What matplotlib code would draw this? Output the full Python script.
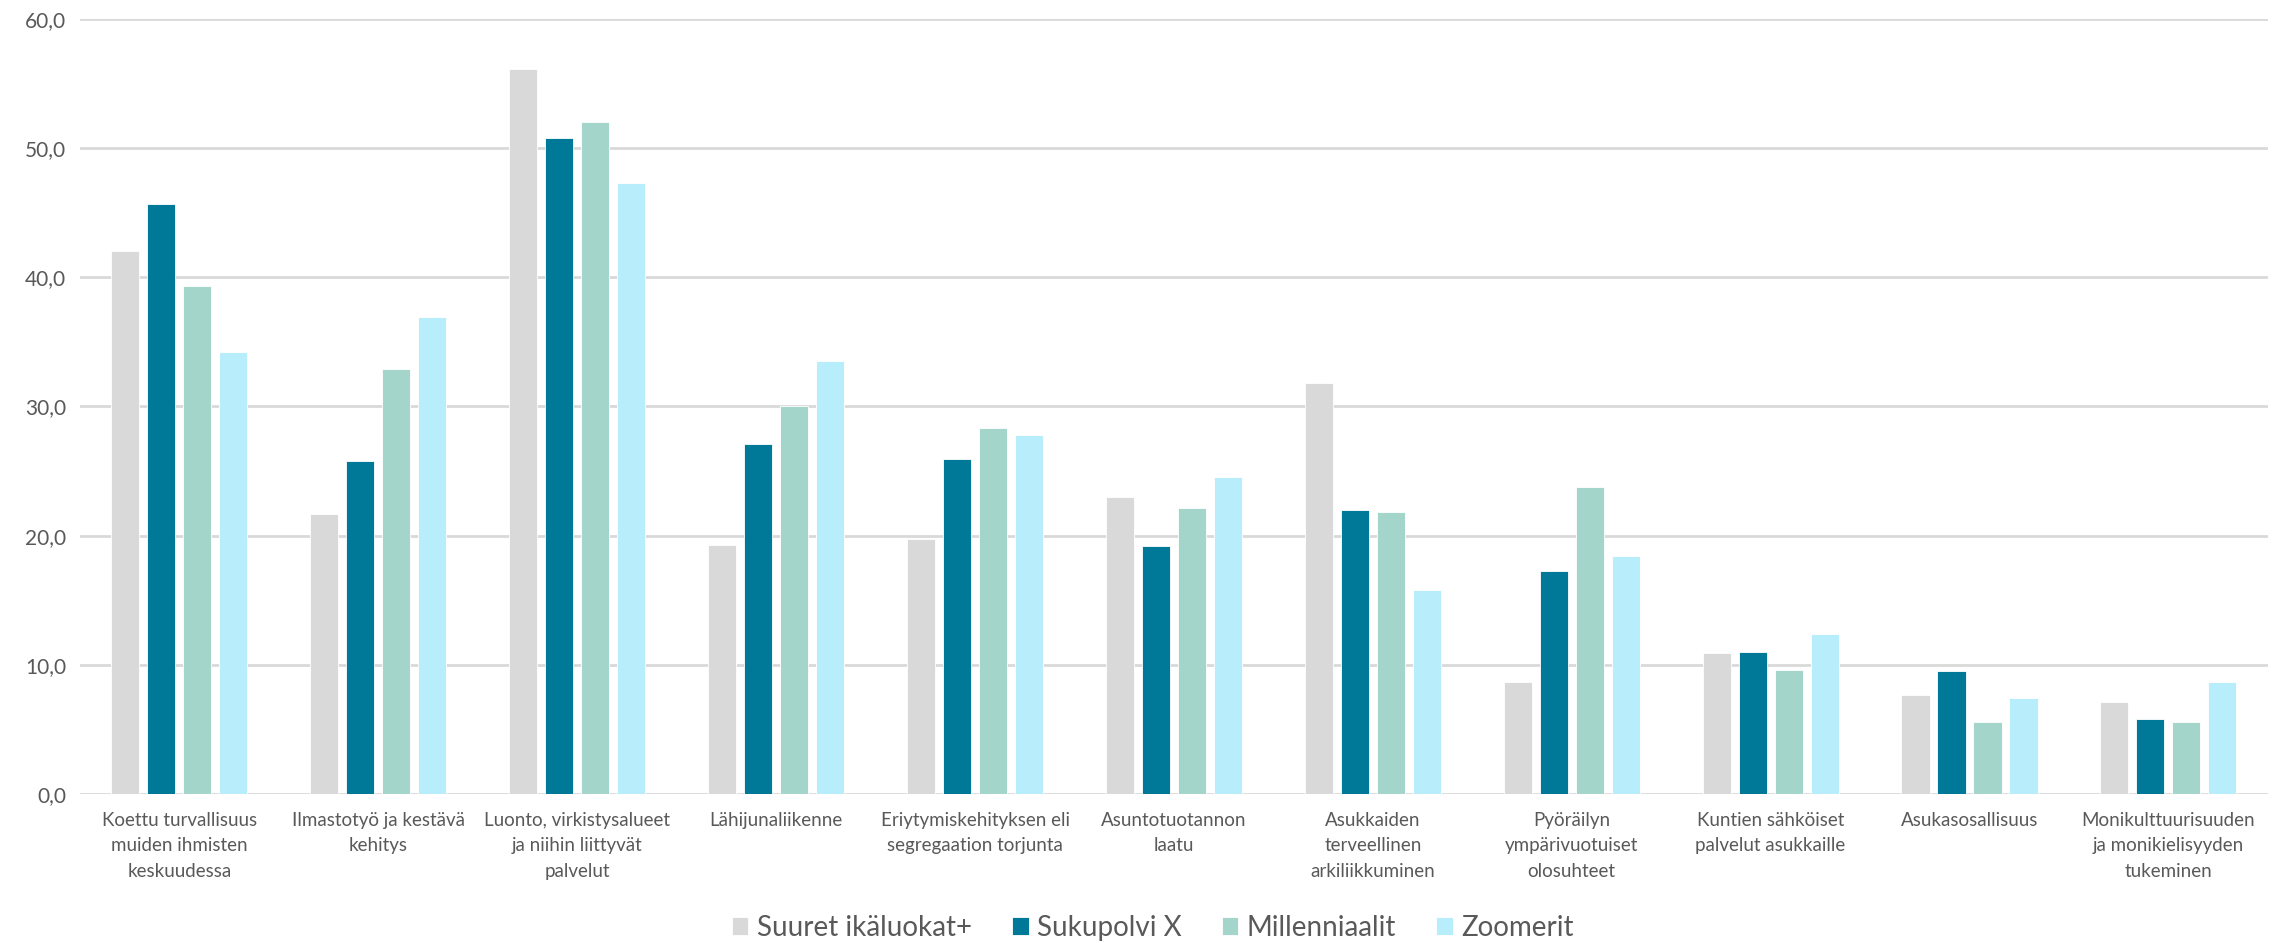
import matplotlib
matplotlib.use("Agg")
import matplotlib.pyplot as plt
from matplotlib.ticker import FuncFormatter
import numpy as np

categories = [
    "Koettu turvallisuus\nmuiden ihmisten\nkeskuudessa",
    "Ilmastotyö ja kestävä\nkehitys",
    "Luonto, virkistysalueet\nja niihin liittyvät\npalvelut",
    "Lähijunaliikenne",
    "Eriytymiskehityksen eli\nsegregaation torjunta",
    "Asuntotuotannon\nlaatu",
    "Asukkaiden\nterveellinen\narkiliikkuminen",
    "Pyöräilyn\nympärivuotuiset\nolosuhteet",
    "Kuntien sähköiset\npalvelut asukkaille",
    "Asukasosallisuus",
    "Monikulttuurisuuden\nja monikielisyyden\ntukeminen",
]
series_names = ["Suuret ikäluokat+", "Sukupolvi X", "Millenniaalit", "Zoomerit"]
suuret = [42.0, 21.7, 56.1, 19.3, 19.7, 23.0, 31.8, 8.7, 10.9, 7.7, 7.1]
sukupolvi_x = [45.7, 25.8, 50.8, 27.1, 25.9, 19.2, 22.0, 17.3, 11.0, 9.5, 5.8]
millenniaalit = [39.3, 32.9, 52.0, 30.0, 28.3, 22.1, 21.8, 23.8, 9.6, 5.6, 5.6]
zoomerit = [34.2, 36.9, 47.3, 33.5, 27.8, 24.5, 15.8, 18.4, 12.4, 7.4, 8.7]
colors = ["#D9D9D9", "#007898", "#A3D5CB", "#B8EEFC"]

plt.rcParams['font.family'] = ['Lato', 'DejaVu Sans']
text_color = "#595959"

fig = plt.figure(figsize=(22.85, 9.43), dpi=100)
ax = fig.add_axes([0.035, 0.158, 0.9575, 0.822])

x = np.arange(len(categories))
width = 0.141
pitch = 0.181
all_series = [suuret, sukupolvi_x, millenniaalit, zoomerit]
for i, (vals, name, col) in enumerate(zip(all_series, series_names, colors)):
    ax.bar(x + (i - 1.5) * pitch, vals, width, color=col, label=name,
           edgecolor="white", linewidth=0.6, zorder=3)

ax.set_xlim(-0.5, len(categories) - 0.5)
ax.set_ylim(0, 60)
ax.set_yticks(np.arange(0, 61, 10))
ax.yaxis.set_major_formatter(FuncFormatter(lambda v, p: f"{v:.1f}".replace(".", ",")))
ax.grid(axis="y", color="#D9D9D9", linewidth=2, zorder=0)
for s in ax.spines.values():
    s.set_visible(False)
ax.tick_params(axis="y", length=0, labelsize=15, labelcolor=text_color, pad=10)
ax.tick_params(axis="x", length=0, labelsize=13.5, labelcolor=text_color, pad=13)
ax.set_xticks(x)
ax.set_xticklabels(categories, linespacing=1.6)

leg = fig.legend(loc="lower center", bbox_to_anchor=(0.5045, -0.024), ncol=4, frameon=False,
                 fontsize=20, handlelength=0.6, handleheight=0.6, handletextpad=0.3,
                 columnspacing=1.45, labelcolor=text_color)

fig.savefig("out.png", dpi=100)
